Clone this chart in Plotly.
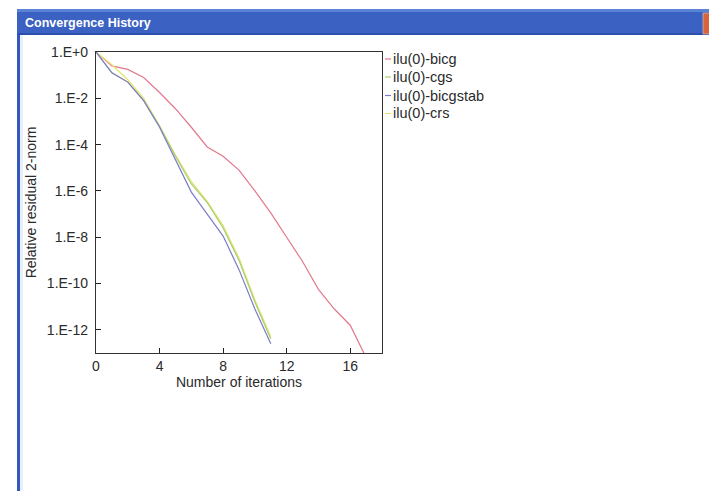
import plotly.graph_objects as go

# ---- data (relative residual) ----
iters_bicg = [0, 1, 2, 3, 4, 5, 6, 7, 8, 9, 10, 11, 12, 13, 14, 15, 16, 17]
res_bicg = [1e0, 10**-0.6, 10**-0.75, 10**-1.1, 10**-1.75, 10**-2.45, 10**-3.25, 10**-4.1,
            10**-4.5, 10**-5.1, 10**-6.0, 10**-6.95, 10**-8.0, 10**-9.05, 10**-10.25,
            10**-11.1, 10**-11.8, 10**-13.2]

iters_cgs = [0, 1, 2, 3, 4, 5, 6, 7, 8, 9, 10, 11]
res_cgs = [1e0, 10**-0.9, 10**-1.3, 10**-2.1, 10**-3.2, 10**-4.5, 10**-5.7, 10**-6.5,
           10**-7.6, 10**-9.0, 10**-10.8, 10**-12.4]

iters_bicgstab = [0, 1, 2, 3, 4, 5, 6, 7, 8, 9, 10, 11]
res_bicgstab = [1e0, 10**-0.9, 10**-1.3, 10**-2.1, 10**-3.25, 10**-4.65, 10**-6.05, 10**-7.0,
                10**-7.95, 10**-9.4, 10**-11.1, 10**-12.6]

iters_crs = [0, 1, 2, 3, 4, 5, 6, 7, 8, 9, 10, 11]
res_crs = [1e0, 10**-0.55, 10**-1.2, 10**-2.0, 10**-3.2, 10**-4.45, 10**-5.6, 10**-6.45,
           10**-7.5, 10**-8.9, 10**-10.7, 10**-12.3]

series_names = ["ilu(0)-bicg", "ilu(0)-cgs", "ilu(0)-bicgstab", "ilu(0)-crs"]
series_colors = ["#e2788c", "#a4d070", "#7c7cc8", "#e4e46c"]

x_tickvals = [0, 4, 8, 12, 16]
y_tickvals = [1e0, 1e-2, 1e-4, 1e-6, 1e-8, 1e-10, 1e-12]
y_ticktext = ["1.E+0", "1.E-2", "1.E-4", "1.E-6", "1.E-8", "1.E-10", "1.E-12"]

W, H = 709, 491
L, R, T, B = 96, 382, 52, 353


def px(x):
    return (x - L) / (R - L)


def py(y):
    return 1 - (y - T) / (B - T)


FONT = "Liberation Sans, Arial, sans-serif"
TXT = "#2a2a2a"

fig = go.Figure()
data = [(iters_bicg, res_bicg), (iters_cgs, res_cgs),
        (iters_bicgstab, res_bicgstab), (iters_crs, res_crs)]
order = [0, 3, 1, 2]
for i in order:
    xs, ys = data[i]
    fig.add_trace(go.Scatter(x=xs, y=ys, mode="lines", name=series_names[i],
                             line=dict(color=series_colors[i], width=1.2),
                             showlegend=False))

shapes = []
annotations = []
# window chrome
shapes.append(dict(type="rect", xref="paper", yref="paper", x0=px(17), x1=px(712),
                   y0=py(35), y1=py(9), fillcolor="#3b61c2", line=dict(width=0), layer="below"))
shapes.append(dict(type="rect", xref="paper", yref="paper", x0=px(17), x1=px(712),
                   y0=py(12), y1=py(9), fillcolor="#5a82d6", line=dict(width=0), layer="below"))
shapes.append(dict(type="rect", xref="paper", yref="paper", x0=px(17), x1=px(712),
                   y0=py(35), y1=py(33), fillcolor="#2c4fae", line=dict(width=0), layer="below"))
shapes.append(dict(type="rect", xref="paper", yref="paper", x0=px(703), x1=px(712),
                   y0=py(34), y1=py(13), fillcolor="#d8643c", line=dict(width=0.5, color="#f0e0d0")))
shapes.append(dict(type="rect", xref="paper", yref="paper", x0=px(17), x1=px(20),
                   y0=py(495), y1=py(35), fillcolor="#3457c0", line=dict(width=0), layer="below"))
shapes.append(dict(type="rect", xref="paper", yref="paper", x0=px(20), x1=px(23),
                   y0=py(495), y1=py(35), fillcolor="#e6f0fb", line=dict(width=0), layer="below"))
annotations.append(dict(text="<b>Convergence History</b>", xref="paper", yref="paper",
                        x=px(23), y=py(22.5), xanchor="left", yanchor="middle", showarrow=False,
                        font=dict(family=FONT, size=12.5, color="white")))

# legend
leg_y = [59, 77, 95.5, 113.5]
for i in range(4):
    shapes.append(dict(type="line", xref="paper", yref="paper", x0=px(385), x1=px(391),
                       y0=py(leg_y[i]), y1=py(leg_y[i]),
                       line=dict(color=series_colors[i], width=1.2)))
    annotations.append(dict(text=series_names[i], xref="paper", yref="paper",
                            x=px(390.5), y=py(leg_y[i]), xanchor="left", yanchor="middle",
                            showarrow=False, font=dict(family=FONT, size=14.5, color=TXT)))

fig.update_layout(
    width=W, height=H,
    margin=dict(l=L, r=W - R, t=T, b=H - B, pad=0),
    paper_bgcolor="white", plot_bgcolor="white",
    font=dict(family=FONT, size=14, color=TXT),
    shapes=shapes, annotations=annotations,
    showlegend=False,
)
fig.update_xaxes(range=[0, 18], tickvals=x_tickvals, ticks="inside", ticklen=5,
                 tickcolor="#222", showline=True, linecolor="#333", linewidth=1.2, mirror=True,
                 showgrid=False, zeroline=False,
                 title=dict(text="Number of iterations", standoff=3,
                            font=dict(family=FONT, size=14, color=TXT)),
                 tickfont=dict(family=FONT, size=14, color=TXT))
fig.update_yaxes(type="log", range=[-13, 0], tickvals=y_tickvals, ticktext=y_ticktext,
                 ticks="inside", ticklen=5, tickcolor="#222", showline=True, linecolor="#333",
                 linewidth=1.2, mirror=True, showgrid=False, zeroline=False,
                 ticklabelstandoff=4,
                 title=dict(text="Relative residual 2-norm", standoff=6,
                            font=dict(family=FONT, size=14, color=TXT)),
                 tickfont=dict(family=FONT, size=14, color=TXT))

fig.write_html("out.html")
